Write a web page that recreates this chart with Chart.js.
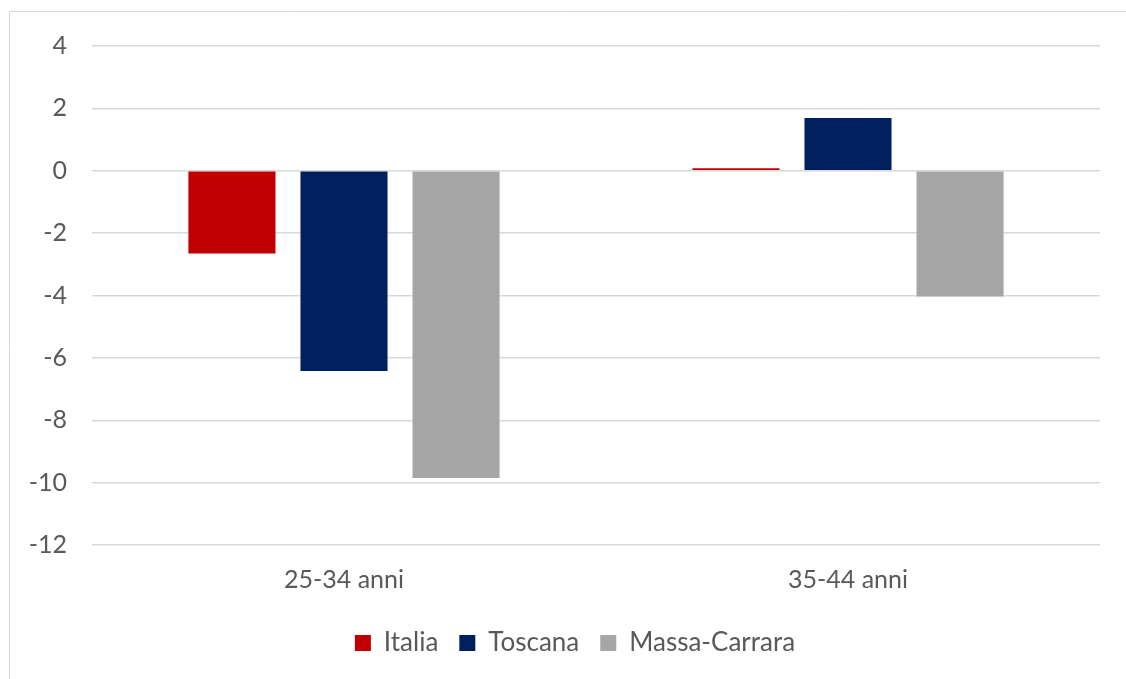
<!DOCTYPE html>
<html>
<head>
<meta charset="utf-8">
<script src="https://cdn.jsdelivr.net/npm/chart.js@4/dist/chart.umd.min.js"></script>
<style>
  html, body { margin: 0; padding: 0; background: #fff; overflow: hidden; }
  #wrap { position: relative; width: 1126px; height: 679px; }
</style>
</head>
<body>
<div id="wrap"><canvas id="c" width="1126" height="679"></canvas></div>
<script>
const categories = ['25-34 anni', '35-44 anni'];
const italia = [-2.65, 0.08];
const toscana = [-6.42, 1.69];
const massaCarrara = [-9.85, -4.03];
const seriesNames = ['Italia', 'Toscana', 'Massa-Carrara'];
const seriesColors = ['#C00000', '#002060', '#A6A6A6'];
const yTicks = [4, 2, 0, -2, -4, -6, -8, -10, -12];

const FONT = "Lato, 'Open Sans', sans-serif";
const TEXT = '#595959';

const frame = {
  id: 'frame',
  beforeDraw(chart) {
    const ctx = chart.ctx;
    ctx.save();
    ctx.fillStyle = '#fff';
    ctx.fillRect(0, 0, chart.width, chart.height);
    ctx.strokeStyle = '#d9d9d9';
    ctx.lineWidth = 1;
    ctx.beginPath();
    ctx.moveTo(9.5, chart.height);
    ctx.lineTo(9.5, 11.5);
    ctx.lineTo(chart.width, 11.5);
    ctx.stroke();
    ctx.restore();
  }
};

const legendShift = {
  id: 'legendShift',
  afterLayout(chart) {
    const lg = chart.legend;
    if (!lg) return;
    lg.left += 25; lg.right += 25;
    lg.top -= 6; lg.bottom -= 6;
  }
};

new Chart(document.getElementById('c'), {
  type: 'bar',
  data: {
    labels: categories,
    datasets: [
      { label: seriesNames[0], data: italia, backgroundColor: seriesColors[0] },
      { label: seriesNames[1], data: toscana, backgroundColor: seriesColors[1] },
      { label: seriesNames[2], data: massaCarrara, backgroundColor: seriesColors[2] }
    ]
  },
  options: {
    responsive: false,
    animation: false,
    devicePixelRatio: 1,
    categoryPercentage: 0.667,
    barPercentage: 0.777,
    layout: { padding: { left: 0, right: 26, top: 46, bottom: 7 } },
    plugins: {
      legend: {
        position: 'bottom',
        labels: {
          font: { family: FONT, size: 26 },
          color: TEXT,
          boxWidth: 16,
          boxHeight: 16,
          padding: 21
        }
      },
      tooltip: { enabled: false }
    },
    scales: {
      x: {
        grid: { display: false, drawTicks: false },
        border: { display: false },
        ticks: { font: { family: FONT, size: 25 }, color: TEXT, padding: 20 }
      },
      y: {
        min: -12,
        max: 4,
        afterBuildTicks(scale) { scale.ticks = yTicks.map(v => ({ value: v })); },
        afterFit(scale) { scale.width = 92; },
        grid: { color: '#d9d9d9', lineWidth: 1.5, drawTicks: false },
        border: { display: false },
        ticks: { font: { family: FONT, size: 25 }, color: TEXT, padding: 25 }
      }
    }
  },
  plugins: [frame, legendShift]
});
</script>
</body>
</html>
